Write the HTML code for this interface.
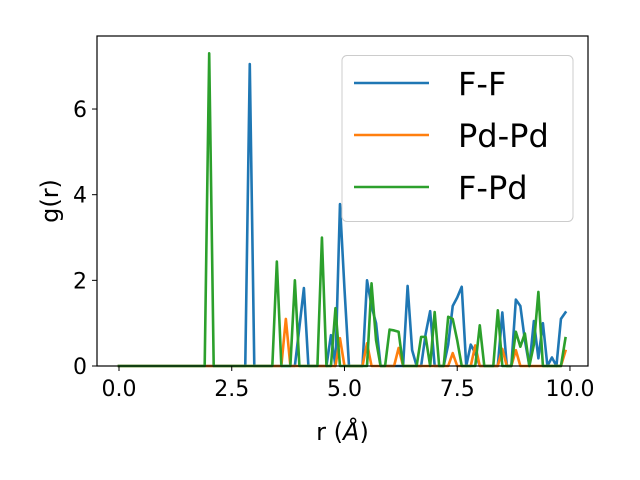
<!DOCTYPE html>
<html><head><meta charset="utf-8"><style>
html,body{margin:0;padding:0;background:#fff;}
svg{display:block;font-family:"DejaVu Sans","Liberation Sans",sans-serif;}
</style></head><body>
<svg id="chart" width="640" height="480" viewBox="0 0 640 480">
<rect x="0" y="0" width="640" height="480" fill="#fff"/>
<g id="plot"></g>
<g id="axes"></g>
<g id="legend"></g>
</svg>
<script>
const rValues = Array.from({length:100},(_,i)=>+(i*0.1).toFixed(1));
const seriesNames = ["F-F","Pd-Pd","F-Pd"];
const seriesColors = ["#1f77b4","#ff7f0e","#2ca02c"];
const ffValues = [0,0,0,0,0,0,0,0,0,0, 0,0,0,0,0,0,0,0,0,0, 0,0,0,0,0,0,0,0,0,7.05,
 0,0,0,0,0,0,0,0,0,0, 0.9,1.82,0,0,0,0,0,0.72,0,3.78, 1.8,0,0,0,0,2.0,1.4,1.0,0,0,
 0,0,0,0,1.87,0.37,0,0,0.75,1.28, 0,0,0,0.5,1.4,1.6,1.85,0,0.5,0.3, 0,0,0,0,0,1.25,0,0,1.55,1.4,
 0.6,0,1.05,0.18,1.0,0,0.2,0,1.1,1.25];
const pdpdValues = [0,0,0,0,0,0,0,0,0,0, 0,0,0,0,0,0,0,0,0,0, 0,0,0,0,0,0,0,0,0,0,
 0,0,0,0,0,0,0,1.1,0,0, 0,0,0,0,0,0,0,0,0,0.65, 0,0,0,0,0,0.53,0,0,0,0,
 0,0,0.42,0,0,0,0,0,0,0, 0,0,0,0,0.3,0,0,0,0,0.48, 0,0,0,0,0,0.4,0,0,0.37,0,
 0,0,0,0,0,0,0,0,0,0.35];
const fpdValues = [0,0,0,0,0,0,0,0,0,0, 0,0,0,0,0,0,0,0,0,0, 7.3,0,0,0,0,0,0,0,0,0,
 0,0,0,0,0,2.44,0,0,0,2.0, 0,0,0,0,0,3.0,0,0,1.35,0, 0,0,0,0,0,0,1.93,0.6,0,0,
 0.85,0.83,0.8,0,0,0,0,0.68,0.68,0, 1.26,0,0,1.15,1.1,0.6,0,0,0,0, 0.95,0,0,0,1.3,0,0,0,0.8,0.45,
 0.76,0,0.5,1.73,0,0,0,0,0,0.65];
const xTickValues = [0,2.5,5,7.5,10];
const xTickLabels = ["0.0","2.5","5.0","7.5","10.0"];
const yTickValues = [0,2,4,6];
const yTickLabels = ["0","2","4","6"];

const L=97,T=36,R=588,B=366;
const xMin=-0.4878,xMax=10.4;
const yMin=0,yMax=7.705;
const xs=v=>L+(v-xMin)/(xMax-xMin)*(R-L);
const ys=v=>B-(v-yMin)/(yMax-yMin)*(B-T);
const NS="http://www.w3.org/2000/svg";
function mk(tag,attrs,parent){const e=document.createElementNS(NS,tag);for(const k in attrs)e.setAttribute(k,attrs[k]);parent.appendChild(e);return e;}

const plot=document.getElementById('plot');
const allSeries=[ffValues,pdpdValues,fpdValues];
const seriesKeys=["ff","pd-pd","f-pd"];
allSeries.forEach((vals,si)=>{
  const d=vals.map((v,i)=>(i?'L':'M')+xs(rValues[i]).toFixed(2)+','+ys(v).toFixed(2)).join(' ');
  const p=mk('path',{d:d,fill:'none',stroke:seriesColors[si],'stroke-width':2.6,'stroke-linejoin':'round','stroke-linecap':'square'},plot);
  
  
});

const axes=document.getElementById('axes');
const ax=mk('rect',{x:L,y:T,width:R-L,height:B-T,fill:'none',stroke:'#000','stroke-width':1.2},axes);


xTickValues.forEach((v,i)=>{
  const x=xs(v);
  const t=mk('line',{x1:x,y1:B,x2:x,y2:B+5,stroke:'#000','stroke-width':1},axes);
  
  
  const tx=mk('text',{x:x,y:B+30,'text-anchor':'middle','font-size':22,fill:'#000'},axes);
  tx.textContent=xTickLabels[i];
  
  
});
yTickValues.forEach((v,i)=>{
  const y=ys(v);
  const t=mk('line',{x1:L-5,y1:y,x2:L,y2:y,stroke:'#000','stroke-width':1},axes);
  
  
  const tx=mk('text',{x:L-10,y:y+8,'text-anchor':'end','font-size':22,fill:'#000'},axes);
  tx.textContent=yTickLabels[i];
  
  
});
const xl=mk('text',{x:(L+R)/2,y:440,'text-anchor':'middle','font-size':24,fill:'#000'},axes);
xl.innerHTML='r (<tspan font-style="italic">Å</tspan>)';


const yl=mk('text',{x:0,y:0,'text-anchor':'middle','font-size':24,fill:'#000',transform:'translate(58,'+((T+B)/2)+') rotate(-90)'},axes);
yl.textContent='g(r)';



const lg=document.getElementById('legend');
const box=mk('rect',{x:342,y:55.5,width:231,height:166,rx:5,fill:'#fff','fill-opacity':0.8,stroke:'#ccc','stroke-width':1},lg);


const legY=[83,135,187];
seriesNames.forEach((n,i)=>{
  const g=mk('g',{},lg);
  
  
  const ln=mk('line',{x1:354,y1:legY[i],x2:429,y2:legY[i],stroke:seriesColors[i],'stroke-width':2.6},g);
  
  
  const tx=mk('text',{x:458,y:legY[i]+12,'font-size':32,fill:'#000'},g);
  tx.textContent=n;
  
  
});
</script>
</body></html>
